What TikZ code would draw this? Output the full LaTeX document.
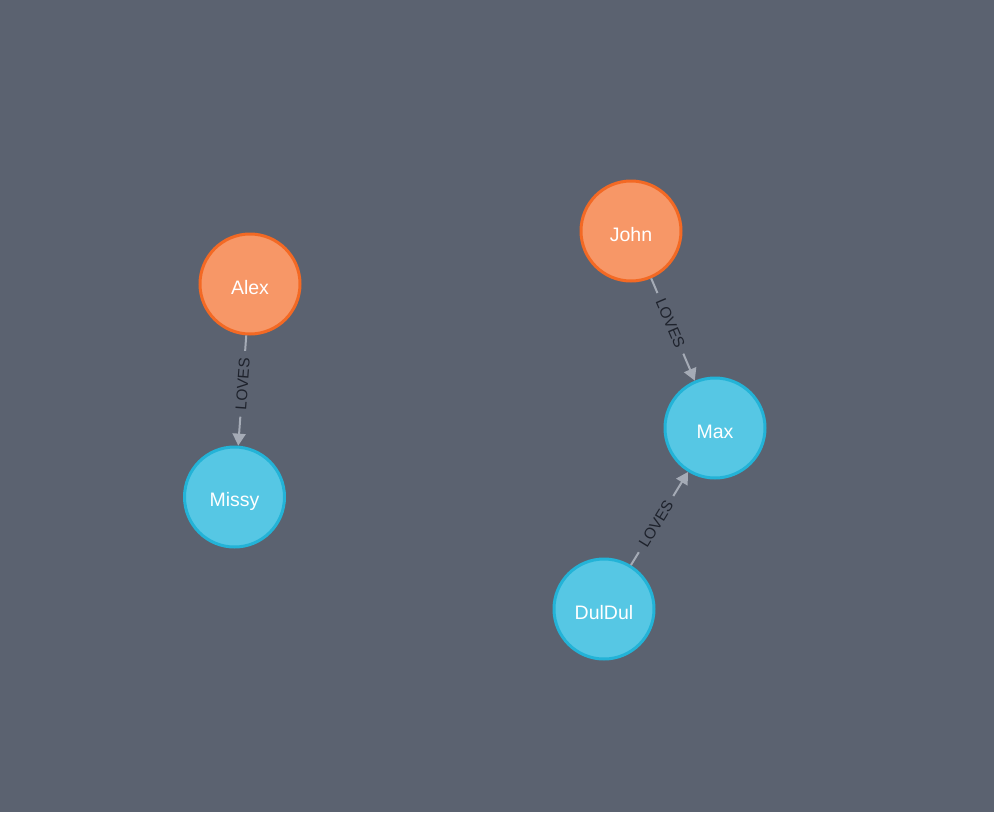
\documentclass[tikz,border=0pt]{standalone}
\usepackage{fontspec}
\setmainfont{Liberation Sans}
\usetikzlibrary{arrows.meta}
\definecolor{bg}{HTML}{5B6270}
\definecolor{orfill}{HTML}{F79767}
\definecolor{orline}{HTML}{F36924}
\definecolor{blfill}{HTML}{56C7E4}
\definecolor{blline}{HTML}{23B3D7}
\definecolor{edgec}{HTML}{A5ABB6}
\definecolor{lblc}{HTML}{1E222C}
\newcommand\nodetxt[1]{\raisebox{-4pt}[\height][\depth]{#1}}
\begin{document}
\begin{tikzpicture}[x=1pt,y=-1pt,
  person/.style={circle,draw=orline,fill=orfill,line width=3pt,minimum size=100pt,inner sep=0pt,text=white,font=\fontsize{19.5}{22}\selectfont},
  pet/.style={circle,draw=blline,fill=blfill,line width=3pt,minimum size=100pt,inner sep=0pt,text=white,font=\fontsize{19.5}{22}\selectfont},
  rel/.style={draw=edgec,line width=2pt,-{Triangle[length=12pt,width=13pt]}},
  rellabel/.style={sloped,fill=bg,text=lblc,inner xsep=7pt,inner ysep=1pt,font=\fontsize{15.5}{17}\selectfont}]
\fill[bg] (0,0) rectangle (994,812);
\useasboundingbox (0,0) rectangle (994,812);
\node[person] (alex) at (250,284) {\nodetxt{Alex}};
\node[pet] (missy) at (234.5,497) {\nodetxt{Missy}};
\node[person] (john) at (631,231) {\nodetxt{John}};
\node[pet] (max) at (715,428) {\nodetxt{Max}};
\node[pet] (duldul) at (604,609) {\nodetxt{DulDul}};
\draw[rel] (alex) -- node[rellabel,pos=0.44] (l1) {LOVES} (missy);
\draw[rel] (john) -- node[rellabel,pos=0.44] (l2) {LOVES} (max);
\draw[rel] (duldul) -- node[rellabel,pos=0.44] (l3) {LOVES} (max);
\end{tikzpicture}
\end{document}
